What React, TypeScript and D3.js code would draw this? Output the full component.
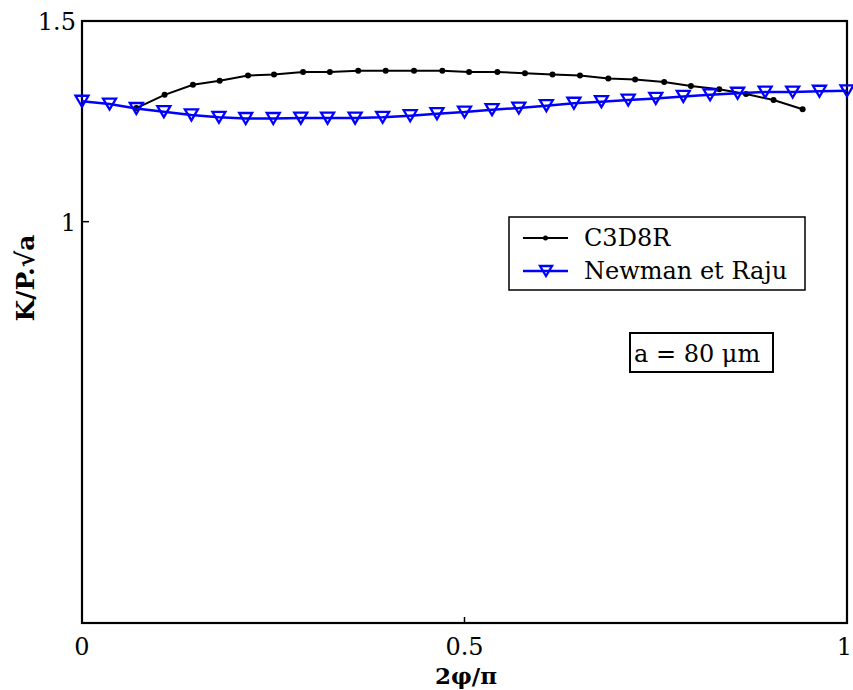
import React from "react";
import * as d3 from "d3";

// ---- data ----
const newmanX = [0, 0.036, 0.071, 0.107, 0.143, 0.179, 0.214, 0.25, 0.286, 0.321, 0.357, 0.393, 0.429, 0.464, 0.5, 0.536, 0.571, 0.607, 0.643, 0.679, 0.714, 0.75, 0.786, 0.821, 0.857, 0.893, 0.929, 0.964, 1.0];
const newmanY = [1.300, 1.293, 1.282, 1.274, 1.266, 1.260, 1.257, 1.257, 1.258, 1.258, 1.258, 1.260, 1.264, 1.269, 1.273, 1.279, 1.283, 1.289, 1.295, 1.299, 1.303, 1.307, 1.312, 1.316, 1.320, 1.323, 1.323, 1.325, 1.326];

const c3d8rX = [0.071, 0.108, 0.145, 0.180, 0.217, 0.251, 0.289, 0.324, 0.361, 0.397, 0.434, 0.471, 0.506, 0.543, 0.579, 0.615, 0.651, 0.688, 0.723, 0.761, 0.796, 0.833, 0.868, 0.904, 0.942];
const c3d8rY = [1.283, 1.316, 1.341, 1.351, 1.364, 1.367, 1.373, 1.373, 1.376, 1.376, 1.376, 1.376, 1.373, 1.373, 1.370, 1.367, 1.364, 1.357, 1.354, 1.348, 1.338, 1.330, 1.318, 1.303, 1.280];

const xTicks = [0, 0.5, 1];
const xTickLabels = ["0", "0.5", "1"];
const yTicks = [1, 1.5];
const yTickLabels = ["1", "1.5"];

const seriesNames = ["C3D8R", "Newman et Raju"];
const annotation = "a = 80 \u03bcm";
const xLabel = "2\u03c6/\u03c0";
const yLabel = "K/P.\u221aa";

const FONT = "'DejaVu Serif', serif";

export default function App() {
  const W = 853, H = 690;
  const left = 82, right = 847, top = 21, bottom = 623;
  const x = d3.scaleLinear().domain([0, 1]).range([left, right]);
  const y = d3.scaleLinear().domain([0, 1.5]).range([bottom, top]);

  const black = c3d8rX.map((v, i) => [v, c3d8rY[i]] as [number, number]);
  const blue = newmanX.map((v, i) => [v, newmanY[i]] as [number, number]);
  const line = d3.line<[number, number]>().x(d => x(d[0])).y(d => y(d[1]));

  const tri = (cx: number, cy: number, w: number, h: number) =>
    `M${cx - w / 2},${cy - h / 2}L${cx + w / 2},${cy - h / 2}L${cx},${cy + h / 2}Z`;

  return (
    <svg width={W} height={H} style={{ position: "absolute", left: 0, top: 0, background: "#fff" }}>
      <rect x={0} y={0} width={W} height={H} fill="#fff" />
      {/* frame */}
      <rect x={left} y={top} width={right - left} height={bottom - top} fill="none" stroke="#000" strokeWidth={2.2} />
      {/* ticks */}
      {xTicks.map((t, i) => {
        const last = i === xTicks.length - 1;
        return (
          <g key={"xt" + i}>
            <line x1={x(t)} x2={x(t)} y1={bottom} y2={bottom - 6} stroke="#000" strokeWidth={1.5} />
            <text x={last ? W - 1 : x(t)} y={655} textAnchor={last ? "end" : "middle"} fontFamily={FONT} fontSize={24}>{xTickLabels[i]}</text>
          </g>
        );
      })}
      {yTicks.map((t, i) => (
        <g key={"yt" + i}>
          <line x1={left} x2={left + 7} y1={y(t)} y2={y(t)} stroke="#000" strokeWidth={1.5} />
          <text x={left - 6} y={y(t) + 9} textAnchor="end" fontFamily={FONT} fontSize={24}>{yTickLabels[i]}</text>
        </g>
      ))}
      {/* series */}
      <path d={line(black) || ""} fill="none" stroke="#000" strokeWidth={2} />
      {black.map((d, i) => (
        <circle key={"b" + i} cx={x(d[0])} cy={y(d[1])} r={3} fill="#000" />
      ))}
      <path d={line(blue) || ""} fill="none" stroke="#0000ff" strokeWidth={2.5} />
      {blue.map((d, i) => (
        <path key={"t" + i} d={tri(x(d[0]), y(d[1]), 13, 11)} fill="none" stroke="#0000ff" strokeWidth={2.3} />
      ))}
      {/* legend */}
      <rect x={509} y={217} width={296} height={73} fill="#fff" stroke="#000" strokeWidth={1.5} />
      <line x1={523} x2={568} y1={238} y2={238} stroke="#000" strokeWidth={2} />
      <circle cx={545.5} cy={238} r={2.5} fill="#000" />
      <text x={584} y={246} fontFamily={FONT} fontSize={24}>{seriesNames[0]}</text>
      <line x1={523} x2={568} y1={271} y2={271} stroke="#0000ff" strokeWidth={2.5} />
      <path d={tri(546, 271, 12, 10)} fill="none" stroke="#0000ff" strokeWidth={2.3} />
      <text x={584} y={279} fontFamily={FONT} fontSize={24}>{seriesNames[1]}</text>
      {/* annotation */}
      <rect x={630} y={333} width={143} height={39} fill="#fff" stroke="#000" strokeWidth={2} />
      <text x={634} y={362} fontFamily={FONT} fontSize={24}>{annotation}</text>
      {/* axis labels */}
      <text x={466} y={684} textAnchor="middle" fontFamily={FONT} fontSize={23} fontWeight="bold">{xLabel}</text>
      <text transform="translate(34,278) rotate(-90)" textAnchor="middle" fontFamily={FONT} fontSize={25} fontWeight="bold">{yLabel}</text>
    </svg>
  );
}
